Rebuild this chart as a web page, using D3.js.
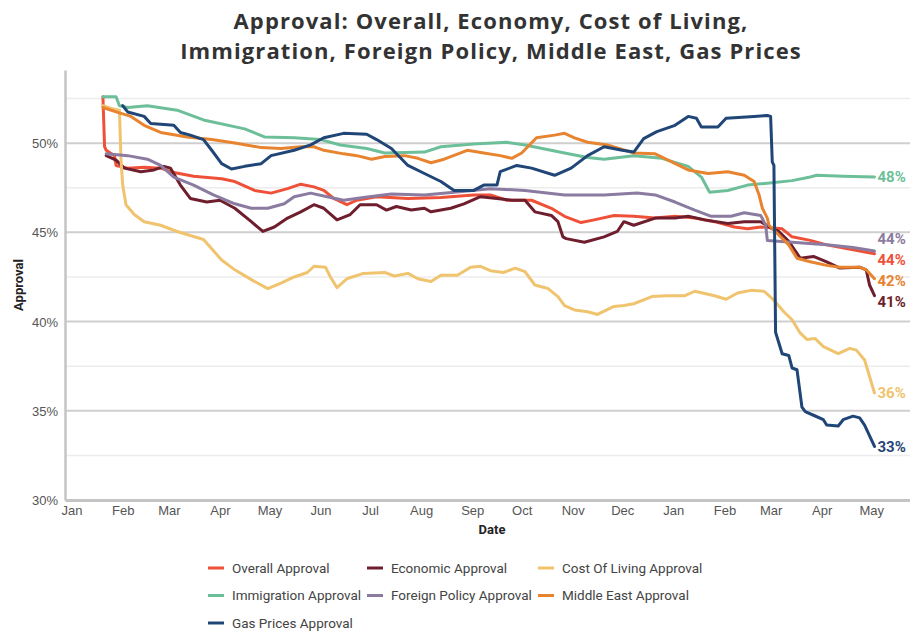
<!DOCTYPE html>
<html>
<head>
<meta charset="UTF-8">
<style>
  body { margin: 0; background: #fff; }
  svg { display: block; font-family: Roboto, "Open Sans", sans-serif; }
  .title { font-family: "Open Sans", sans-serif; font-weight: 700; font-size: 22px; letter-spacing: 1.1px; fill: #333; }
  .tick text { font-size: 13px; fill: #555; }
  .axis-title { font-weight: 700; font-size: 13px; fill: #222; }
  .legend text { font-size: 13.5px; fill: #444; }
  .end-label { font-weight: 700; font-size: 15px; }
</style>
</head>
<body>
<svg></svg>
<script src="https://d3js.org/d3.v7.min.js"></script>
<script>

const titleLines = ["Approval: Overall, Economy, Cost of Living,", "Immigration, Foreign Policy, Middle East, Gas Prices"];
const yTicks = [30, 35, 40, 45, 50];
const yMinorTicks = [32.5, 37.5, 42.5, 47.5, 52.5];

const seriesNames = ["Overall Approval", "Economic Approval", "Cost Of Living Approval",
  "Immigration Approval", "Foreign Policy Approval", "Middle East Approval", "Gas Prices Approval"];
const seriesColors = ["#ef5138", "#6e1e2c", "#f0c36e", "#6dbf99", "#8b7ba1", "#e8842f", "#1f4676"];

const overall = [
  ["2025-01-20", 52.6], ["2025-01-21", 49.8], ["2025-01-22", 49.6], ["2025-01-27", 49.3], ["2025-01-28", 48.75],
  ["2025-02-04", 48.6], ["2025-02-14", 48.65], ["2025-02-24", 48.6], ["2025-03-04", 48.35], ["2025-03-16", 48.15],
  ["2025-04-02", 48.0], ["2025-04-10", 47.85], ["2025-04-22", 47.35], ["2025-05-02", 47.2], ["2025-05-12", 47.45],
  ["2025-05-20", 47.7], ["2025-05-28", 47.55], ["2025-06-03", 47.35], ["2025-06-09", 46.9], ["2025-06-17", 46.55],
  ["2025-06-23", 46.8], ["2025-07-05", 47.0], ["2025-07-24", 46.9], ["2025-08-13", 46.95], ["2025-09-02", 47.1],
  ["2025-09-12", 47.1], ["2025-09-22", 46.8], ["2025-10-07", 46.8], ["2025-10-19", 46.35], ["2025-10-27", 45.9],
  ["2025-11-06", 45.55], ["2025-11-14", 45.7], ["2025-11-26", 45.95], ["2025-12-08", 45.9], ["2025-12-21", 45.8],
  ["2026-01-02", 45.9], ["2026-01-14", 45.8], ["2026-01-26", 45.6], ["2026-02-07", 45.3], ["2026-02-15", 45.2],
  ["2026-02-23", 45.3], ["2026-03-08", 45.2], ["2026-03-14", 44.75], ["2026-03-25", 44.55], ["2026-04-04", 44.3],
  ["2026-04-16", 44.1], ["2026-05-03", 43.8]
];

const economic = [
  ["2025-01-22", 49.3], ["2025-01-28", 49.05], ["2025-02-02", 48.6], ["2025-02-12", 48.4], ["2025-02-20", 48.5],
  ["2025-02-26", 48.7], ["2025-03-02", 48.6], ["2025-03-08", 47.65], ["2025-03-14", 46.9], ["2025-03-24", 46.7],
  ["2025-04-01", 46.8], ["2025-04-10", 46.35], ["2025-04-20", 45.6], ["2025-04-27", 45.05], ["2025-05-04", 45.3],
  ["2025-05-12", 45.8], ["2025-05-20", 46.15], ["2025-05-28", 46.55], ["2025-06-03", 46.35], ["2025-06-11", 45.7],
  ["2025-06-19", 46.0], ["2025-06-25", 46.55], ["2025-07-05", 46.55], ["2025-07-11", 46.25], ["2025-07-17", 46.45],
  ["2025-07-26", 46.25], ["2025-08-03", 46.35], ["2025-08-07", 46.15], ["2025-08-19", 46.35], ["2025-08-27", 46.6],
  ["2025-09-06", 47.0], ["2025-09-16", 46.9], ["2025-09-25", 46.8], ["2025-10-03", 46.8], ["2025-10-09", 46.15],
  ["2025-10-19", 45.95], ["2025-10-23", 45.6], ["2025-10-26", 44.75], ["2025-10-28", 44.65], ["2025-11-08", 44.45],
  ["2025-11-20", 44.75], ["2025-11-28", 45.05], ["2025-12-02", 45.6], ["2025-12-08", 45.4], ["2025-12-21", 45.8],
  ["2026-01-02", 45.8], ["2026-01-10", 45.9], ["2026-01-20", 45.7], ["2026-02-03", 45.5], ["2026-02-13", 45.6],
  ["2026-02-23", 45.6], ["2026-03-02", 45.2], ["2026-03-06", 45.05], ["2026-03-12", 44.5], ["2026-03-19", 43.55],
  ["2026-03-27", 43.65], ["2026-04-04", 43.35], ["2026-04-12", 43.0], ["2026-04-24", 43.05], ["2026-04-28", 42.9],
  ["2026-04-30", 42.05], ["2026-05-03", 41.45]
];

const costOfLiving = [
  ["2025-01-20", 52.1], ["2025-01-25", 51.95], ["2025-01-30", 51.85], ["2025-01-31", 49.0], ["2025-02-01", 47.65],
  ["2025-02-03", 46.55], ["2025-02-08", 46.0], ["2025-02-14", 45.6], ["2025-02-24", 45.4], ["2025-03-06", 45.05],
  ["2025-03-22", 44.6], ["2025-04-02", 43.45], ["2025-04-10", 42.9], ["2025-04-20", 42.35], ["2025-04-30", 41.85],
  ["2025-05-08", 42.15], ["2025-05-16", 42.5], ["2025-05-24", 42.75], ["2025-05-28", 43.1], ["2025-06-04", 43.05],
  ["2025-06-07", 42.5], ["2025-06-11", 41.9], ["2025-06-17", 42.4], ["2025-06-27", 42.7], ["2025-07-10", 42.75],
  ["2025-07-16", 42.55], ["2025-07-24", 42.7], ["2025-07-30", 42.4], ["2025-08-07", 42.25], ["2025-08-13", 42.6],
  ["2025-08-23", 42.6], ["2025-08-31", 43.05], ["2025-09-06", 43.1], ["2025-09-12", 42.85], ["2025-09-20", 42.75],
  ["2025-09-27", 43.0], ["2025-10-03", 42.8], ["2025-10-09", 42.05], ["2025-10-17", 41.85], ["2025-10-23", 41.4],
  ["2025-10-27", 40.9], ["2025-11-02", 40.65], ["2025-11-10", 40.55], ["2025-11-16", 40.4], ["2025-11-26", 40.85],
  ["2025-12-02", 40.9], ["2025-12-08", 41.0], ["2025-12-19", 41.4], ["2025-12-28", 41.45], ["2026-01-08", 41.45],
  ["2026-01-14", 41.7], ["2026-01-26", 41.45], ["2026-02-02", 41.25], ["2026-02-09", 41.6], ["2026-02-17", 41.75],
  ["2026-02-25", 41.7], ["2026-03-03", 41.2], ["2026-03-09", 40.55], ["2026-03-14", 40.1], ["2026-03-19", 39.35],
  ["2026-03-23", 39.0], ["2026-03-28", 39.05], ["2026-04-02", 38.6], ["2026-04-11", 38.2], ["2026-04-18", 38.5],
  ["2026-04-22", 38.4], ["2026-04-27", 37.85], ["2026-05-03", 36.0]
];

const immigration = [
  ["2025-01-20", 52.6], ["2025-01-28", 52.6], ["2025-01-30", 52.1], ["2025-02-04", 52.0], ["2025-02-16", 52.1],
  ["2025-03-06", 51.85], ["2025-03-22", 51.3], ["2025-04-16", 50.8], ["2025-04-28", 50.35], ["2025-05-16", 50.3],
  ["2025-06-01", 50.2], ["2025-06-13", 49.9], ["2025-06-29", 49.7], ["2025-07-10", 49.45], ["2025-08-03", 49.5],
  ["2025-08-13", 49.8], ["2025-09-02", 49.95], ["2025-09-22", 50.05], ["2025-10-03", 49.9], ["2025-10-27", 49.45],
  ["2025-11-10", 49.2], ["2025-11-20", 49.1], ["2025-12-08", 49.3], ["2025-12-25", 49.15], ["2026-01-10", 48.7],
  ["2026-01-18", 48.1], ["2026-01-23", 47.25], ["2026-02-03", 47.35], ["2026-02-15", 47.65], ["2026-02-27", 47.75],
  ["2026-03-14", 47.9], ["2026-03-25", 48.1], ["2026-03-29", 48.2], ["2026-04-14", 48.15], ["2026-05-03", 48.1]
];

const foreignPolicy = [
  ["2025-01-22", 49.4], ["2025-02-04", 49.3], ["2025-02-16", 49.1], ["2025-02-24", 48.75], ["2025-03-04", 48.1],
  ["2025-03-16", 47.65], ["2025-03-28", 47.1], ["2025-04-10", 46.6], ["2025-04-20", 46.35], ["2025-04-30", 46.35],
  ["2025-05-10", 46.6], ["2025-05-16", 47.0], ["2025-05-26", 47.2], ["2025-06-05", 47.0], ["2025-06-15", 46.8],
  ["2025-06-27", 46.95], ["2025-07-14", 47.15], ["2025-08-03", 47.1], ["2025-08-21", 47.25], ["2025-09-12", 47.45],
  ["2025-10-03", 47.35], ["2025-10-27", 47.1], ["2025-11-20", 47.1], ["2025-12-10", 47.2], ["2025-12-21", 47.1],
  ["2026-01-02", 46.7], ["2026-01-14", 46.25], ["2026-01-24", 45.9], ["2026-02-05", 45.9], ["2026-02-13", 46.1],
  ["2026-02-23", 45.95], ["2026-02-26", 45.4], ["2026-02-27", 44.55], ["2026-03-14", 44.45], ["2026-04-04", 44.3],
  ["2026-04-20", 44.15], ["2026-05-03", 43.95]
];

const middleEast = [
  ["2025-01-20", 52.0], ["2025-01-28", 51.75], ["2025-02-06", 51.5], ["2025-02-14", 51.0], ["2025-02-24", 50.6],
  ["2025-03-12", 50.35], ["2025-03-27", 50.2], ["2025-04-11", 50.0], ["2025-04-26", 49.75], ["2025-05-08", 49.7],
  ["2025-05-20", 49.8], ["2025-05-28", 49.8], ["2025-06-03", 49.6], ["2025-06-15", 49.4], ["2025-06-23", 49.3],
  ["2025-07-02", 49.1], ["2025-07-10", 49.25], ["2025-07-22", 49.3], ["2025-07-30", 49.15], ["2025-08-07", 48.9],
  ["2025-08-15", 49.1], ["2025-08-29", 49.6], ["2025-09-08", 49.45], ["2025-09-18", 49.3], ["2025-09-25", 49.15],
  ["2025-10-01", 49.45], ["2025-10-10", 50.3], ["2025-10-21", 50.45], ["2025-10-27", 50.55], ["2025-11-02", 50.3],
  ["2025-11-10", 50.05], ["2025-11-22", 49.9], ["2025-12-08", 49.45], ["2025-12-21", 49.4], ["2025-12-31", 48.95],
  ["2026-01-10", 48.5], ["2026-01-22", 48.3], ["2026-02-03", 48.4], ["2026-02-13", 48.2], ["2026-02-19", 47.85],
  ["2026-02-22", 47.1], ["2026-02-24", 46.35], ["2026-02-27", 45.8], ["2026-02-28", 45.4], ["2026-03-06", 44.85],
  ["2026-03-12", 44.3], ["2026-03-17", 43.55], ["2026-03-25", 43.35], ["2026-04-04", 43.15], ["2026-04-12", 43.05],
  ["2026-04-24", 43.05], ["2026-04-28", 42.9], ["2026-05-03", 42.4]
];

const gasPrices = [
  ["2025-02-01", 52.1], ["2025-02-04", 51.75], ["2025-02-14", 51.5], ["2025-02-18", 51.1], ["2025-03-04", 51.0],
  ["2025-03-08", 50.6], ["2025-03-14", 50.45], ["2025-03-22", 50.2], ["2025-03-27", 49.6], ["2025-04-02", 48.85],
  ["2025-04-08", 48.55], ["2025-04-16", 48.7], ["2025-04-26", 48.85], ["2025-05-02", 49.3], ["2025-05-16", 49.6],
  ["2025-05-26", 49.9], ["2025-06-03", 50.3], ["2025-06-15", 50.55], ["2025-06-29", 50.5], ["2025-07-05", 50.2],
  ["2025-07-14", 49.7], ["2025-07-24", 48.75], ["2025-08-03", 48.3], ["2025-08-13", 47.85], ["2025-08-21", 47.35],
  ["2025-09-02", 47.35], ["2025-09-08", 47.65], ["2025-09-16", 47.65], ["2025-09-18", 48.4], ["2025-09-28", 48.75],
  ["2025-10-07", 48.6], ["2025-10-21", 48.2], ["2025-10-31", 48.6], ["2025-11-10", 49.3], ["2025-11-20", 49.8],
  ["2025-12-01", 49.6], ["2025-12-08", 49.5], ["2025-12-14", 50.25], ["2025-12-22", 50.65], ["2026-01-02", 51.0],
  ["2026-01-10", 51.5], ["2026-01-15", 51.4], ["2026-01-18", 50.9], ["2026-01-28", 50.9], ["2026-02-02", 51.4],
  ["2026-02-19", 51.5], ["2026-02-27", 51.55], ["2026-03-01", 51.5], ["2026-03-02", 48.95], ["2026-03-03", 48.75],
  ["2026-03-04", 39.4], ["2026-03-06", 38.8], ["2026-03-08", 38.2], ["2026-03-12", 38.1], ["2026-03-14", 37.4],
  ["2026-03-17", 37.3], ["2026-03-20", 35.2], ["2026-03-22", 34.95], ["2026-03-27", 34.75], ["2026-04-02", 34.5],
  ["2026-04-04", 34.2], ["2026-04-11", 34.15], ["2026-04-14", 34.5], ["2026-04-20", 34.7], ["2026-04-24", 34.6],
  ["2026-04-27", 34.2], ["2026-05-03", 33.0]
];

const seriesValues = [overall, economic, costOfLiving, immigration, foreignPolicy, middleEast, gasPrices];

// layout
const width = 910, height = 631;
const margin = { top: 70, right: -9, bottom: 131, left: 65 };
const parse = d3.timeParse("%Y-%m-%d");

const svg = d3.select("svg").attr("width", width).attr("height", height);

const x = d3.scaleTime()
  .domain([parse("2024-12-28"), parse("2026-05-30")])
  .range([margin.left, width - margin.right]);
const y = d3.scaleLinear()
  .domain([30, 54.1])
  .range([height - margin.bottom, margin.top]);

// title
svg.selectAll("text.title").data(titleLines).enter().append("text")
  .attr("class", "title")
  .attr("x", width / 2 + 36)
  .attr("y", (d, i) => 29 + i * 30)
  .attr("text-anchor", "middle")
  .text(d => d);

// grid
svg.append("g").selectAll("line").data(yMinorTicks).enter().append("line")
  .attr("x1", margin.left).attr("x2", width - margin.right)
  .attr("y1", d => y(d)).attr("y2", d => y(d))
  .attr("stroke", "#ececec").attr("stroke-width", 1.5);
svg.append("g").selectAll("line").data(yTicks.filter(d => d > 30)).enter().append("line")
  .attr("x1", margin.left).attr("x2", width - margin.right)
  .attr("y1", d => y(d)).attr("y2", d => y(d))
  .attr("stroke", "#cfcfcf").attr("stroke-width", 2);

// axes
const yAxis = svg.append("g")
  .attr("transform", `translate(${margin.left},0)`)
  .call(d3.axisLeft(y).tickValues(yTicks).tickSize(0).tickPadding(7).tickFormat(d => d + "%"));
yAxis.select(".domain").attr("stroke", "#c4c4c4").attr("stroke-width", 2.5);
yAxis.selectAll(".tick text").attr("dy", "0.35em");

const xAxis = svg.append("g")
  .attr("transform", `translate(0,${height - margin.bottom})`)
  .call(d3.axisBottom(x).ticks(d3.timeMonth.every(1)).tickSize(0).tickPadding(6).tickFormat(d3.timeFormat("%b")));
xAxis.select(".domain").attr("stroke", "#c4c4c4").attr("stroke-width", 3);

svg.append("text")
  .attr("class", "axis-title")
  .attr("transform", `translate(23,${(y(30) + y(54.1)) / 2}) rotate(-90)`)
  .attr("text-anchor", "middle")
  .text("Approval");
svg.append("text")
  .attr("class", "axis-title")
  .attr("x", (margin.left + width - margin.right) / 2)
  .attr("y", 534)
  .attr("text-anchor", "middle")
  .text("Date");

// lines
const line = d3.line()
  .x(d => x(parse(d[0])))
  .y(d => y(d[1]))
  .curve(d3.curveLinear);

svg.append("g").selectAll("path").data(seriesValues).enter().append("path")
  .attr("d", line)
  .attr("fill", "none")
  .attr("stroke", (d, i) => seriesColors[i])
  .attr("stroke-width", 3)
  .attr("stroke-linejoin", "round")
  .attr("stroke-linecap", "round");

// end labels, pushed apart so they don't overlap
let ends = seriesValues.map((s, i) => {
  const last = s[s.length - 1];
  return { i: i, v: last[1], px: x(parse(last[0])), py: y(last[1]) };
});
ends.sort((a, b) => a.py - b.py);
const gap = 21;
for (let k = 0; k < 30; k++) {
  for (let j = 1; j < ends.length; j++) {
    const over = gap - (ends[j].py - ends[j - 1].py);
    if (over > 0) { ends[j - 1].py -= over / 2; ends[j].py += over / 2; }
  }
}
svg.append("g").selectAll("text").data(ends).enter().append("text")
  .attr("class", "end-label")
  .attr("x", d => d.px + 3)
  .attr("y", d => d.py)
  .attr("dy", "0.35em")
  .attr("fill", d => seriesColors[d.i])
  .text(d => Math.round(d.v) + "%");

// legend
const legendCols = [208, 367, 538];
const legend = svg.append("g").attr("class", "legend")
  .selectAll("g").data(seriesNames).enter().append("g")
  .attr("transform", (d, i) => `translate(${legendCols[i % 3]},${568 + Math.floor(i / 3) * 27.5})`);
legend.append("line")
  .attr("x1", 0).attr("x2", 16)
  .attr("stroke", (d, i) => seriesColors[i])
  .attr("stroke-width", 3);
legend.append("text")
  .attr("x", 24)
  .attr("dy", "0.35em")
  .text(d => d);

</script>
</body>
</html>
